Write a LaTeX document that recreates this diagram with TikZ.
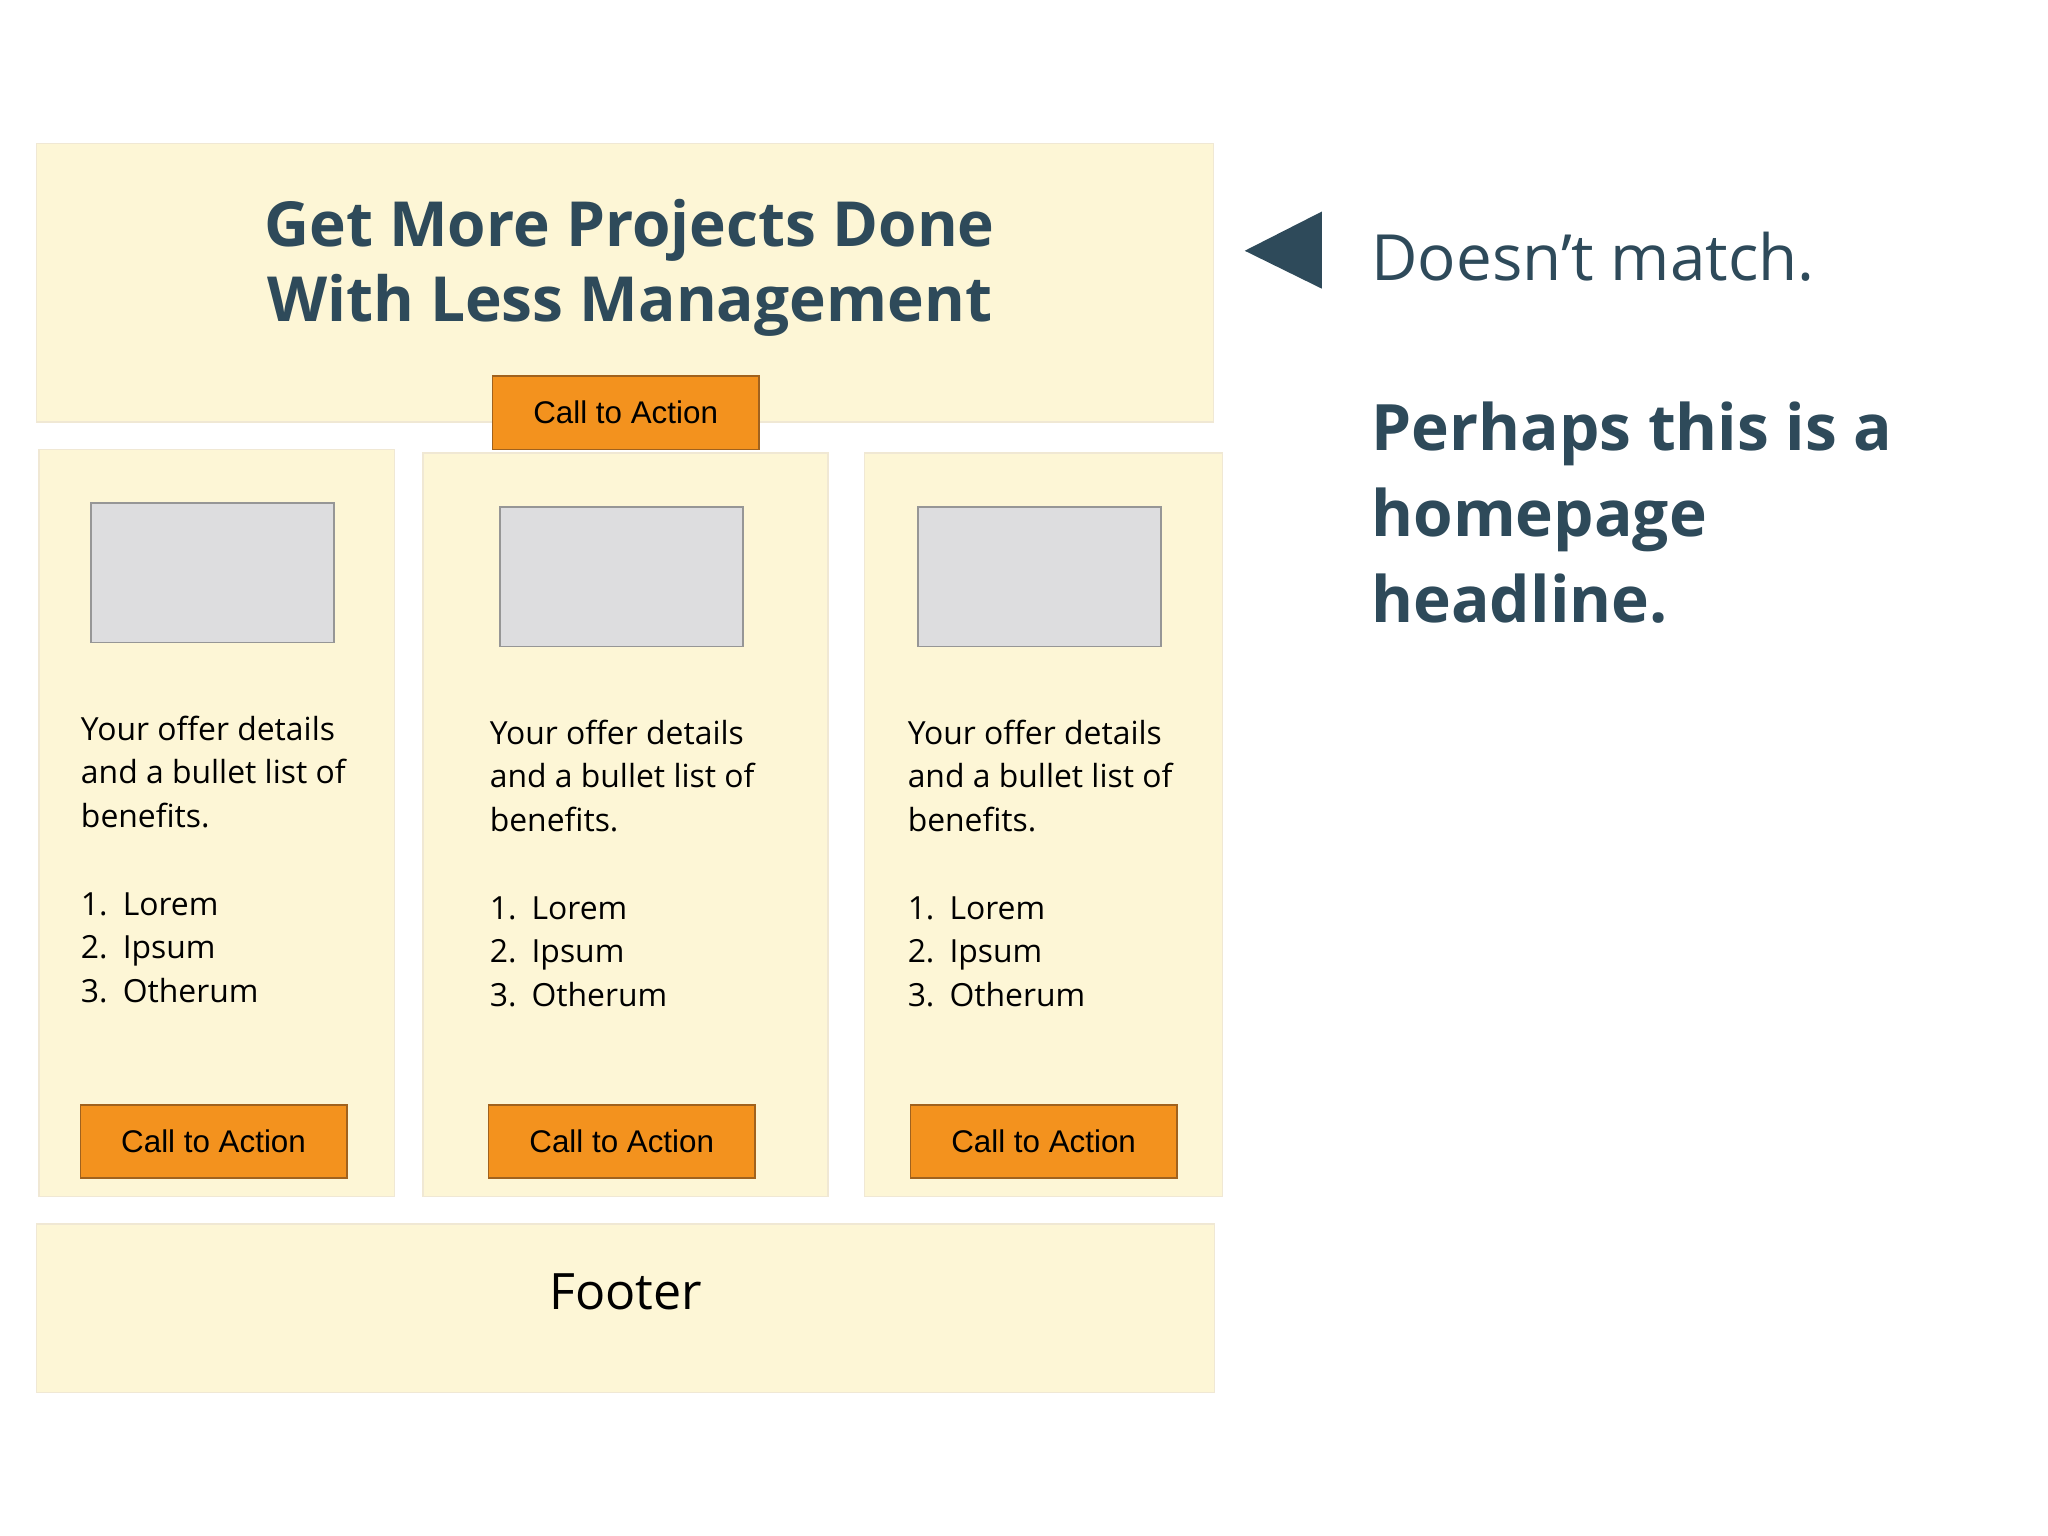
\documentclass[tikz,border=0pt]{standalone}
\usepackage{fontspec}
\setmainfont{Open Sans}
\newfontfamily\ctafont{Liberation Sans}
\usepackage{tikz}
\definecolor{cream}{RGB}{253,246,214}
\definecolor{creamline}{RGB}{240,232,212}
\definecolor{ctaorange}{RGB}{243,146,30}
\definecolor{ctaline}{RGB}{160,98,30}
\definecolor{photogray}{RGB}{221,221,223}
\definecolor{photoline}{RGB}{150,150,150}
\definecolor{slate}{RGB}{46,74,90}

\begin{document}
\begin{tikzpicture}[x=0.5pt,y=-0.5pt,
  every node/.style={outer sep=0pt},
  panel/.style={fill=cream, draw=creamline, line width=0.6pt, inner sep=0pt},
  cta/.style={fill=ctaorange, draw=ctaline, line width=0.6pt, inner sep=0pt, minimum width=102pt, minimum height=28pt, font=\ctafont\fontsize{12}{14}\selectfont},
  photo/.style={fill=photogray, draw=photoline, line width=0.6pt, inner sep=0pt, minimum width=93pt, minimum height=53.5pt},
  offer/.style={anchor=north west, inner sep=0pt, align=left, font=\fontsize{12.2}{16.75}\selectfont}]
\useasboundingbox[fill=white] (0,0) rectangle (1568,1176);

\node[panel, minimum width=450.5pt, minimum height=106.5pt] (hero) at (478.5,216.5) {};
\node[panel, minimum width=136pt, minimum height=286pt] (colA) at (166,630) {};
\node[panel, minimum width=155pt, minimum height=284.5pt] (colB) at (479,631.5) {};
\node[panel, minimum width=137pt, minimum height=284.5pt] (colC) at (799,631.5) {};
\node[panel, minimum width=451pt, minimum height=64.5pt] (footer) at (479,1001.5) {};

\node[font=\bfseries\fontsize{23.8}{29}\selectfont, text=slate, align=center] (heroTitle) at (482,205) {Get More Projects Done\\With Less Management};
\node[cta] (heroCta) at (479,316) {Call to Action};

\node[photo] (photoA) at (162.5,438.5) {};
\node[photo] (photoB) at (476,441.5) {};
\node[photo] (photoC) at (796,441.5) {};

\node[offer] (offerA) at (62,548) {Your offer details\\and a bullet list of\\benefits.\\[16.75pt]\makebox[16pt][l]{1.}Lorem\\\makebox[16pt][l]{2.}Ipsum\\\makebox[16pt][l]{3.}Otherum};
\node[offer] (offerB) at (375,551) {Your offer details\\and a bullet list of\\benefits.\\[16.75pt]\makebox[16pt][l]{1.}Lorem\\\makebox[16pt][l]{2.}Ipsum\\\makebox[16pt][l]{3.}Otherum};
\node[offer] (offerC) at (695,551) {Your offer details\\and a bullet list of\\benefits.\\[16.75pt]\makebox[16pt][l]{1.}Lorem\\\makebox[16pt][l]{2.}Ipsum\\\makebox[16pt][l]{3.}Otherum};

\node[cta] (ctaA) at (163.5,874) {Call to Action};
\node[cta] (ctaB) at (476,874) {Call to Action};
\node[cta] (ctaC) at (799,874) {Call to Action};

\node[font=\fontsize{19.2}{23}\selectfont] (footerText) at (479,989) {Footer};

\fill[slate] (953,192) -- (1012,162) -- (1012,221) -- cycle;
\node[anchor=base west, inner sep=0pt, font=\fontsize{24.4}{28}\selectfont, text=slate] (verdict) at (1050,215) {Doesn’t match.};
\node[anchor=north west, inner sep=0pt, align=left, font=\bfseries\fontsize{24.5}{32.75}\selectfont, text=slate] (guess) at (1050,308) {Perhaps this is a\\homepage\\headline.};
\end{tikzpicture}
\end{document}
